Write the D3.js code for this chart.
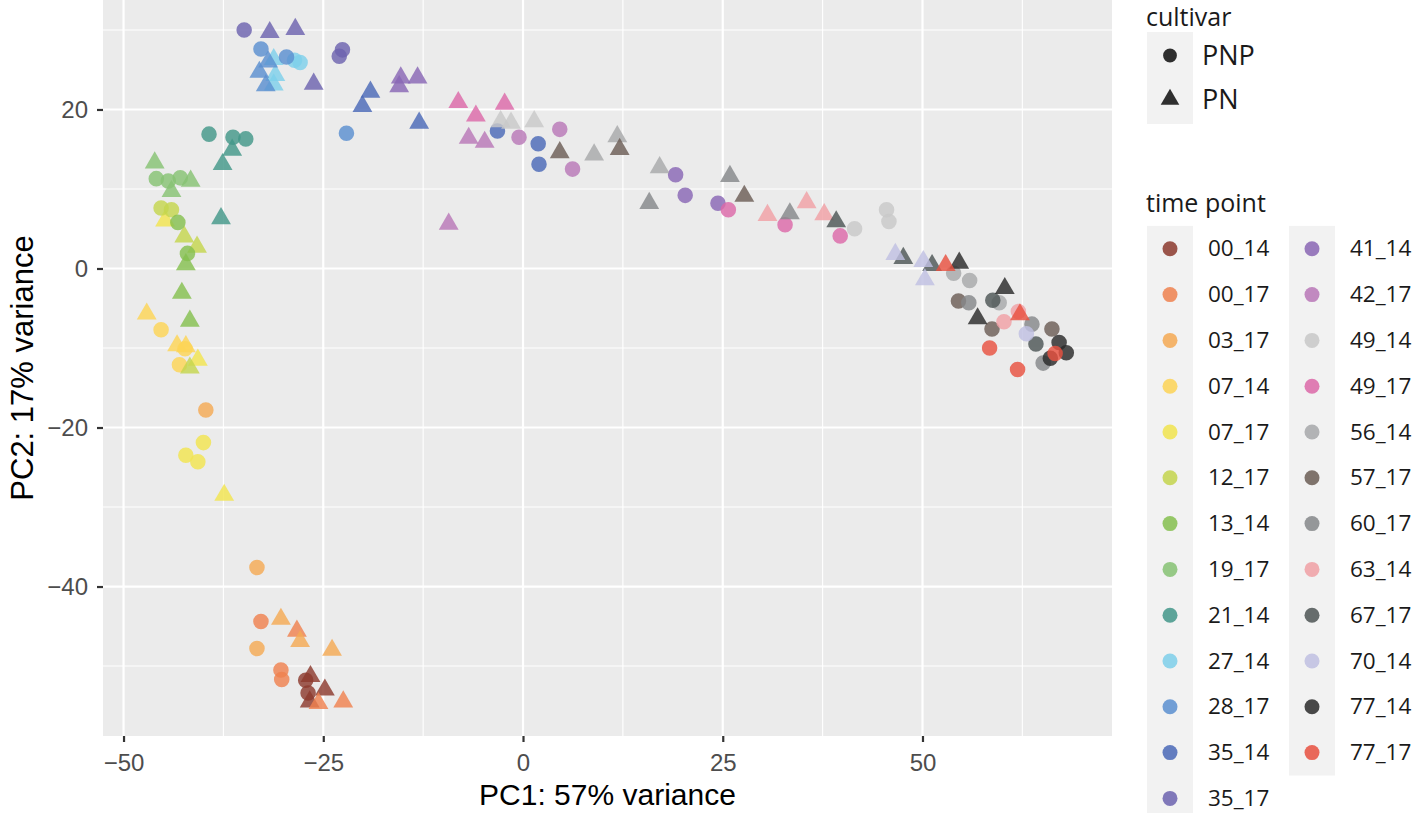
<!DOCTYPE html>
<html><head><meta charset="utf-8">
<script src="https://cdn.jsdelivr.net/npm/d3@7"></script>
<style>body{margin:0;background:#fff}</style>
</head><body>
<svg id="c" width="1416" height="813"></svg>
<script>
// ---- data ----
const timePoints = ["00_14","00_17","03_17","07_14","07_17","12_17","13_14","19_17","21_14","27_14","28_17","35_14","35_17",
                    "41_14","42_17","49_14","49_17","56_14","57_17","60_17","63_14","67_17","70_14","77_14","77_17"];
const timeColors = ["#8c3a2e","#ef814f","#f4a954","#fdd456","#f1e44f","#c4d54e","#85bf4f","#86c273","#439789","#7ecfea","#5a8fd0","#4a69b7","#6c63af",
                    "#8966b4","#b877b7","#c8c8c8","#dc69a8","#a7a8aa","#6b5d55","#85878a","#f0a0a5","#4d5555","#c0c0e2","#2a2a2a","#e85040"];
const cultivars = ["PNP","PN"];
const xTicks = [-50,-25,0,25,50];
const yTicks = [-40,-20,0,20];

const ptGroup = [
 "00_14","00_14","00_14","00_14","00_14",
 "00_17","00_17","00_17","00_17","00_17","00_17",
 "03_17","03_17","03_17","03_17","03_17","03_17",
 "07_14","07_14","07_14","07_14","07_14","07_14",
 "07_17","07_17","07_17","07_17","07_17","07_17",
 "12_17","12_17","12_17","12_17","12_17",
 "13_14","13_14","13_14","13_14","13_14",
 "19_17","19_17","19_17","19_17","19_17","19_17",
 "21_14","21_14","21_14","21_14","21_14","21_14",
 "27_14","27_14","27_14","27_14","27_14",
 "28_17","28_17","28_17","28_17","28_17","28_17",
 "35_14","35_14","35_14","35_14","35_14","35_14",
 "35_17","35_17","35_17","35_17","35_17","35_17",
 "41_14","41_14","41_14","41_14","41_14","41_14",
 "42_17","42_17","42_17","42_17","42_17","42_17",
 "49_14","49_14","49_14","49_14","49_14","49_14",
 "49_17","49_17","49_17","49_17","49_17","49_17",
 "56_14","56_14","56_14","56_14","56_14","56_14",
 "57_17","57_17","57_17","57_17","57_17","57_17",
 "60_17","60_17","60_17","60_17","60_17","60_17",
 "63_14","63_14","63_14","63_14","63_14",
 "67_17","67_17","67_17","67_17","67_17",
 "70_14","70_14","70_14","70_14",
 "77_14","77_14","77_14","77_14","77_14","77_14",
 "77_17","77_17","77_17","77_17","77_17"
];
const ptCultivar = [
 "PNP","PN","PN","PNP","PN",
 "PNP","PN","PNP","PNP","PN","PN",
 "PNP","PNP","PN","PN","PNP","PN",
 "PN","PNP","PN","PN","PNP","PNP",
 "PN","PN","PNP","PNP","PNP","PN",
 "PNP","PNP","PN","PN","PN",
 "PNP","PNP","PN","PN","PN",
 "PN","PNP","PNP","PNP","PN","PN",
 "PNP","PNP","PNP","PN","PN","PN",
 "PN","PNP","PNP","PN","PN",
 "PNP","PNP","PN","PN","PN","PNP",
 "PN","PN","PN","PNP","PNP","PNP",
 "PNP","PN","PN","PNP","PNP","PN",
 "PN","PN","PN","PNP","PNP","PNP",
 "PN","PN","PN","PNP","PNP","PNP",
 "PN","PN","PN","PNP","PNP","PNP",
 "PN","PN","PN","PNP","PNP","PNP",
 "PN","PN","PN","PNP","PNP","PNP",
 "PN","PN","PN","PNP","PNP","PNP",
 "PN","PN","PN","PNP","PNP","PNP",
 "PN","PN","PN","PNP","PNP",
 "PN","PN","PN","PNP","PNP",
 "PN","PN","PN","PNP",
 "PN","PN","PN","PNP","PNP","PNP",
 "PN","PN","PNP","PNP","PNP"
];
const pc1 = [
 -27.2,-26.6,-24.8,-26.9,-26.7,
 -32.8,-28.3,-30.3,-30.2,-25.6,-22.5,
 -39.7,-33.3,-30.3,-27.9,-33.3,-23.9,
 -47.1,-45.3,-43.3,-42.2,-42.3,-43.0,
 -44.8,-40.7,-40.0,-42.2,-40.7,-37.4,
 -45.3,-44.0,-42.4,-40.8,-41.7,
 -43.2,-42.0,-42.2,-42.7,-41.7,
 -46.1,-45.9,-44.4,-42.9,-41.6,-44.0,
 -39.3,-36.3,-34.7,-36.4,-37.6,-37.8,
 -31.2,-28.6,-27.9,-31.0,-31.2,
 -32.8,-29.6,-31.9,-33.0,-32.2,-22.1,
 -19.1,-20.1,-13.0,-3.2,1.9,2.0,
 -34.9,-31.7,-28.5,-22.6,-23.0,-26.2,
 -15.3,-13.2,-15.5,19.1,20.3,24.4,
 -6.8,-4.8,-9.3,-0.5,4.6,6.2,
 -2.8,-1.5,1.4,41.5,45.5,45.8,
 -8.1,-2.3,-5.9,25.7,32.8,39.7,
 8.9,11.8,17.1,53.9,55.9,59.6,
 4.6,12.1,27.7,54.5,58.7,66.2,
 15.8,25.9,33.4,55.8,63.7,65.1,
 30.6,35.5,37.7,60.2,62.0,
 39.2,47.6,51.2,58.8,64.2,
 46.6,50.1,50.3,63.0,
 54.6,56.9,60.3,67.1,68.0,66.0,
 52.9,62.2,58.4,61.9,66.6
];
const pc2 = [
 -51.8,-51.3,-53.0,-53.4,-54.5,
 -44.4,-45.6,-50.5,-51.7,-54.7,-54.5,
 -17.8,-37.6,-44.1,-46.9,-47.8,-48.0,
 -5.7,-7.7,-9.7,-9.8,-10.1,-12.1,
 6.0,-11.5,-21.9,-23.5,-24.3,-28.5,
 7.6,7.4,4.0,2.7,-12.5,
 5.8,1.9,0.5,-3.1,-6.6,
 13.3,11.3,11.0,11.4,11.0,9.7,
 16.9,16.5,16.3,14.9,13.1,6.3,
 26.3,26.2,25.9,24.3,23.1,
 27.6,26.6,26.0,24.7,23.0,17.0,
 22.2,20.4,18.3,17.3,15.7,13.1,
 30.0,29.7,30.1,27.5,26.7,23.2,
 24.0,24.0,22.9,11.8,9.2,8.2,
 16.4,15.9,5.6,16.5,17.5,12.5,
 18.5,18.3,18.5,5.0,7.4,5.9,
 20.9,20.7,19.2,7.4,5.5,4.1,
 14.3,16.6,12.7,-0.6,-1.5,-4.3,
 14.6,15.0,9.1,-4.1,-7.6,-7.6,
 8.2,11.6,6.9,-4.3,-7.0,-11.9,
 6.7,8.3,6.8,-6.7,-5.4,
 5.9,1.3,0.4,-4.0,-9.5,
 1.8,0.9,-1.4,-8.2,
 0.7,-6.3,-2.5,-9.3,-10.6,-11.3,
 0.4,-5.8,-10.0,-12.7,-10.7
];

// ---- chart ----
const svg = d3.select("#c");
const P = {l:103, r:1112, t:0, b:736};
const x = d3.scaleLinear().domain([-52.57, 73.72]).range([P.l, P.r]);
const y = d3.scaleLinear().domain([-58.8, 33.77]).range([P.b, P.t]);
const color = d3.scaleOrdinal().domain(timePoints).range(timeColors);
const shape = d3.scaleOrdinal().domain(cultivars).range([d3.symbolCircle, d3.symbolTriangle]);
const size = d3.scaleOrdinal().domain(cultivars).range([190, 170]);

svg.append("rect").attr("x",P.l).attr("y",P.t).attr("width",P.r-P.l).attr("height",P.b-P.t).attr("fill","#ebebeb");

const xMinor = xTicks.slice(0,-1).map((v,i)=>(v+xTicks[i+1])/2).concat([62.5]);
const yMinor = [-50,-30,-10,10,30];
const g = svg.append("g");
g.selectAll(".xm").data(xMinor).join("line").attr("x1",d=>x(d)).attr("x2",d=>x(d)).attr("y1",P.t).attr("y2",P.b).attr("stroke","#fff").attr("stroke-width",1.1);
g.selectAll(".ym").data(yMinor).join("line").attr("y1",d=>y(d)).attr("y2",d=>y(d)).attr("x1",P.l).attr("x2",P.r).attr("stroke","#fff").attr("stroke-width",1.1);
g.selectAll(".xM").data(xTicks).join("line").attr("x1",d=>x(d)).attr("x2",d=>x(d)).attr("y1",P.t).attr("y2",P.b).attr("stroke","#fff").attr("stroke-width",2.2);
g.selectAll(".yM").data(yTicks).join("line").attr("y1",d=>y(d)).attr("y2",d=>y(d)).attr("x1",P.l).attr("x2",P.r).attr("stroke","#fff").attr("stroke-width",2.2);

const pts = pc1.map((v,i)=>({x:v, y:pc2[i], g:ptGroup[i], c:ptCultivar[i]}));
svg.append("g").selectAll("path").data(pts).join("path")
  .attr("transform", d=>`translate(${x(d.x)},${y(d.y)})`)
  .attr("d", d=>d3.symbol(shape(d.c), size(d.c))())
  .attr("fill", d=>color(d.g)).attr("fill-opacity",0.82);

// axes
const fmt = d => d<0 ? "\u2212"+Math.abs(d) : String(d);
const xa = svg.append("g").attr("transform",`translate(0,${P.b})`)
  .call(d3.axisBottom(x).tickValues(xTicks).tickFormat(fmt).tickSize(6).tickPadding(12));
const ya = svg.append("g").attr("transform",`translate(${P.l},0)`)
  .call(d3.axisLeft(y).tickValues(yTicks).tickFormat(fmt).tickSize(6).tickPadding(9));
[xa,ya].forEach(a=>{
  a.select(".domain").remove();
  a.selectAll(".tick line").attr("stroke","#333").attr("stroke-width",2.2);
  a.selectAll(".tick text").attr("fill","#4d4d4d").style("font-family","'Liberation Sans',Arial,sans-serif").style("font-size","24px");
});

svg.append("text").attr("x",(P.l+P.r)/2).attr("y",805).attr("text-anchor","middle")
  .style("font-family","'Liberation Sans',Arial,sans-serif").style("font-size","30px").attr("fill","#000")
  .text("PC1: 57% variance");
svg.append("text").attr("transform",`translate(33,${(P.t+P.b)/2}) rotate(-90)`).attr("text-anchor","middle")
  .style("font-family","'Liberation Sans',Arial,sans-serif").style("font-size","31px").attr("fill","#000")
  .text("PC2: 17% variance");

// legends
const LF = "'Open Sans','Noto Sans',sans-serif";
const L = svg.append("g");
L.append("text").attr("x",1146).attr("y",26).style("font-family",LF).style("font-size","25px").attr("fill","#1a1a1a").text("cultivar");
L.append("rect").attr("x",1147).attr("y",32).attr("width",46).attr("height",92).attr("fill","#f2f2f2");
cultivars.forEach((c,i)=>{
  const cy = 55.5 + i*44;
  L.append("path").attr("transform",`translate(1170,${cy})`).attr("d",d3.symbol(shape(c), 150)()).attr("fill","#1a1a1a").attr("fill-opacity",0.9);
  L.append("text").attr("x",1202).attr("y",cy).attr("dy","0.36em").style("font-family",LF).style("font-size","27px").attr("fill","#1a1a1a").text(c);
});

L.append("text").attr("x",1146).attr("y",212).style("font-family",LF).style("font-size","25px").attr("fill","#1a1a1a").text("time point");
const nCol1 = 13;
const rowH = 45.8, row0 = 248.8;
const cols = [timePoints.slice(0,nCol1), timePoints.slice(nCol1)];
cols.forEach((arr,ci)=>{
  const kx = ci===0 ? 1147 : 1289;
  L.append("rect").attr("x",kx).attr("y",row0-rowH/2).attr("width",46).attr("height",arr.length*rowH).attr("fill","#f2f2f2");
  arr.forEach((t,ri)=>{
    const cy = row0 + ri*rowH;
    L.append("circle").attr("cx",kx+23).attr("cy",cy).attr("r",7.5).attr("fill",color(t)).attr("fill-opacity",0.85);
    L.append("text").attr("x",kx+61).attr("y",cy).attr("dy","0.34em").style("font-family",LF).style("font-size","22.5px").attr("fill","#1a1a1a").text(t);
  });
});
</script>
</body></html>
